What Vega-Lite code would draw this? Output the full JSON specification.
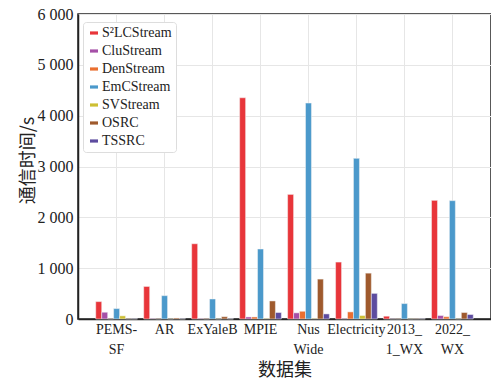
{
  "$schema": "https://vega.github.io/schema/vega-lite/v6.json",
  "width": 413,
  "height": 305,
  "autosize": {"type": "none"},
  "padding": {"left": 78, "top": 14, "right": 0, "bottom": 64},
  "background": "white",
  "config": {
    "view": {"stroke": "#222222", "strokeWidth": 1.5},
    "font": "Liberation Serif"
  },
  "data": {
    "values": [
      {"dataset": "PEMS-|SF", "method": "S²LCStream", "time": 342},
      {"dataset": "PEMS-|SF", "method": "CluStream", "time": 133},
      {"dataset": "PEMS-|SF", "method": "DenStream", "time": 4},
      {"dataset": "PEMS-|SF", "method": "EmCStream", "time": 205},
      {"dataset": "PEMS-|SF", "method": "SVStream", "time": 62},
      {"dataset": "PEMS-|SF", "method": "OSRC", "time": 5},
      {"dataset": "PEMS-|SF", "method": "TSSRC", "time": 5},
      {"dataset": "AR", "method": "S²LCStream", "time": 640},
      {"dataset": "AR", "method": "CluStream", "time": 10},
      {"dataset": "AR", "method": "DenStream", "time": 4},
      {"dataset": "AR", "method": "EmCStream", "time": 459},
      {"dataset": "AR", "method": "SVStream", "time": 3},
      {"dataset": "AR", "method": "OSRC", "time": 20},
      {"dataset": "AR", "method": "TSSRC", "time": 5},
      {"dataset": "ExYaleB", "method": "S²LCStream", "time": 1480},
      {"dataset": "ExYaleB", "method": "CluStream", "time": 10},
      {"dataset": "ExYaleB", "method": "DenStream", "time": 4},
      {"dataset": "ExYaleB", "method": "EmCStream", "time": 394},
      {"dataset": "ExYaleB", "method": "SVStream", "time": 3},
      {"dataset": "ExYaleB", "method": "OSRC", "time": 45},
      {"dataset": "ExYaleB", "method": "TSSRC", "time": 5},
      {"dataset": "MPIE", "method": "S²LCStream", "time": 4352},
      {"dataset": "MPIE", "method": "CluStream", "time": 40},
      {"dataset": "MPIE", "method": "DenStream", "time": 40},
      {"dataset": "MPIE", "method": "EmCStream", "time": 1377},
      {"dataset": "MPIE", "method": "SVStream", "time": 10},
      {"dataset": "MPIE", "method": "OSRC", "time": 355},
      {"dataset": "MPIE", "method": "TSSRC", "time": 127},
      {"dataset": "Nus|Wide", "method": "S²LCStream", "time": 2451},
      {"dataset": "Nus|Wide", "method": "CluStream", "time": 121},
      {"dataset": "Nus|Wide", "method": "DenStream", "time": 152},
      {"dataset": "Nus|Wide", "method": "EmCStream", "time": 4248},
      {"dataset": "Nus|Wide", "method": "SVStream", "time": 10},
      {"dataset": "Nus|Wide", "method": "OSRC", "time": 785},
      {"dataset": "Nus|Wide", "method": "TSSRC", "time": 100},
      {"dataset": "Electricity", "method": "S²LCStream", "time": 1120},
      {"dataset": "Electricity", "method": "CluStream", "time": 8},
      {"dataset": "Electricity", "method": "DenStream", "time": 140},
      {"dataset": "Electricity", "method": "EmCStream", "time": 3160},
      {"dataset": "Electricity", "method": "SVStream", "time": 68},
      {"dataset": "Electricity", "method": "OSRC", "time": 902},
      {"dataset": "Electricity", "method": "TSSRC", "time": 504},
      {"dataset": "2013_|1_WX", "method": "S²LCStream", "time": 55},
      {"dataset": "2013_|1_WX", "method": "CluStream", "time": 4},
      {"dataset": "2013_|1_WX", "method": "DenStream", "time": 3},
      {"dataset": "2013_|1_WX", "method": "EmCStream", "time": 303},
      {"dataset": "2013_|1_WX", "method": "SVStream", "time": 3},
      {"dataset": "2013_|1_WX", "method": "OSRC", "time": 5},
      {"dataset": "2013_|1_WX", "method": "TSSRC", "time": 5},
      {"dataset": "2022_|WX", "method": "S²LCStream", "time": 2334},
      {"dataset": "2022_|WX", "method": "CluStream", "time": 68},
      {"dataset": "2022_|WX", "method": "DenStream", "time": 45},
      {"dataset": "2022_|WX", "method": "EmCStream", "time": 2328},
      {"dataset": "2022_|WX", "method": "SVStream", "time": 4},
      {"dataset": "2022_|WX", "method": "OSRC", "time": 127},
      {"dataset": "2022_|WX", "method": "TSSRC", "time": 88}
    ]
  },
  "mark": {"type": "bar", "stroke": "#f4f4f4", "strokeWidth": 0.5},
  "encoding": {
    "x": {
      "field": "dataset",
      "type": "nominal",
      "sort": null,
      "scale": {"paddingInner": 0.13, "paddingOuter": 0.37},
      "axis": {
        "title": "数据集",
        "titleFont": "Noto Sans CJK SC",
        "titleFontSize": 18,
        "titleFontWeight": "normal",
        "titleColor": "#222222",
        "titlePadding": 5,
        "labelAngle": 0,
        "labelFont": "Liberation Serif",
        "labelFontSize": 14,
        "labelColor": "#222222",
        "labelLineHeight": 20,
        "labelPadding": 3,
        "labelExpr": "split(datum.label, '|')",
        "bandPosition": 0.5,
        "grid": true,
        "gridColor": "#e6e6e6",
        "ticks": false,
        "domainColor": "#222222",
        "domainWidth": 1.5
      }
    },
    "xOffset": {
      "field": "method",
      "type": "nominal",
      "sort": ["S²LCStream", "CluStream", "DenStream", "EmCStream", "SVStream", "OSRC", "TSSRC"],
      "scale": {"paddingInner": 0, "paddingOuter": 0}
    },
    "y": {
      "field": "time",
      "type": "quantitative",
      "scale": {"domain": [0, 6000], "nice": false},
      "axis": {
        "title": "通信时间/s",
        "titleFont": "Noto Sans CJK SC",
        "titleFontSize": 18,
        "titleFontWeight": "normal",
        "titleColor": "#222222",
        "titleAngle": 270,
        "titleAlign": "center",
        "titleBaseline": "middle",
        "titleX": -50,
        "titleY": 146,
        "values": [0, 1000, 2000, 3000, 4000, 5000, 6000],
        "labelExpr": "replace(format(datum.value, ','), ',', ' ')",
        "labelFont": "Liberation Serif",
        "labelFontSize": 16,
        "labelColor": "#222222",
        "labelPadding": 5,
        "ticks": false,
        "grid": true,
        "gridColor": "#e6e6e6",
        "domainColor": "#222222",
        "domainWidth": 1.5
      }
    },
    "color": {
      "field": "method",
      "type": "nominal",
      "scale": {
        "domain": ["S²LCStream", "CluStream", "DenStream", "EmCStream", "SVStream", "OSRC", "TSSRC"],
        "range": ["#e8353a", "#a550a7", "#ea6f30", "#4b99cb", "#cdbf33", "#9f5a2d", "#5d4c9f"]
      },
      "legend": {
        "title": null,
        "orient": "none",
        "legendX": 5,
        "legendY": 8,
        "labelFont": "Liberation Serif",
        "labelFontSize": 14,
        "labelColor": "#222222",
        "labelOffset": 1,
        "symbolType": "M-1,-0.4H1V0.4H-1Z",
        "symbolSize": 64,
        "symbolStrokeWidth": 0,
        "rowPadding": 4,
        "padding": 4,
        "strokeColor": "#dddddd",
        "fillColor": "white",
        "cornerRadius": 3
      }
    }
  }
}
